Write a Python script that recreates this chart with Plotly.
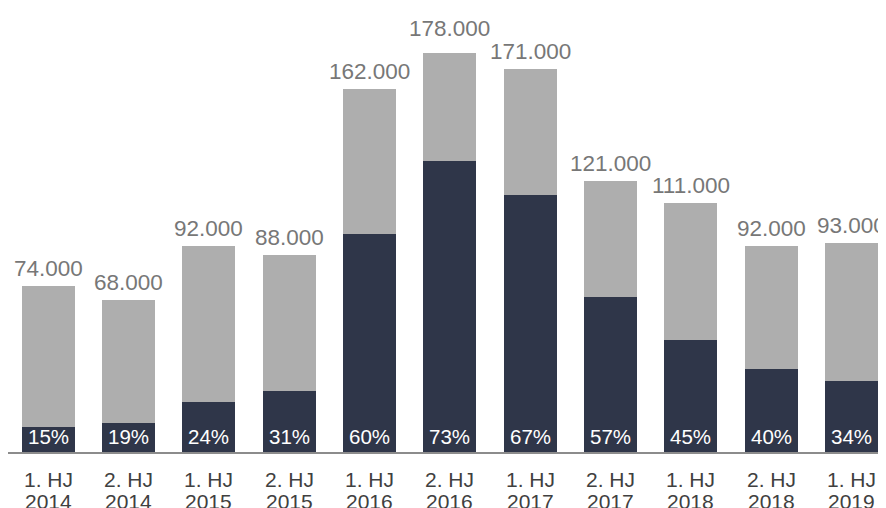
import plotly.graph_objects as go

half_labels = ["1. HJ", "2. HJ", "1. HJ", "2. HJ", "1. HJ", "2. HJ",
               "1. HJ", "2. HJ", "1. HJ", "2. HJ", "1. HJ"]
year_labels = ["2014", "2014", "2015", "2015", "2016", "2016",
               "2017", "2017", "2018", "2018", "2019"]
categories = [f"{h} {y}" for h, y in zip(half_labels, year_labels)]
totals = [74000, 68000, 92000, 88000, 162000, 178000, 171000, 121000, 111000, 92000, 93000]
shares_pct = [15, 19, 24, 31, 60, 73, 67, 57, 45, 40, 34]
total_labels = ["74.000", "68.000", "92.000", "88.000", "162.000", "178.000",
                "171.000", "121.000", "111.000", "92.000", "93.000"]

dark = [t * p / 100 for t, p in zip(totals, shares_pct)]
light = [t - d for t, d in zip(totals, dark)]

DARK = "#2F3649"
GRAY = "#AEAEAE"
FONT = "Liberation Sans, Arial, sans-serif"

# extra lift for the label that sits next to a taller neighbour label
label_lift = {"2. HJ 2016": 7}

fig = go.Figure()
fig.add_trace(go.Bar(x=categories, y=dark, marker=dict(color=DARK, line=dict(width=0)),
                     hoverinfo="skip"))
fig.add_trace(go.Bar(x=categories, y=light, marker=dict(color=GRAY, line=dict(width=0)),
                     hoverinfo="skip"))

annotations = []
for c, t, lab in zip(categories, totals, total_labels):
    annotations.append(dict(x=c, y=t, text=lab, showarrow=False, yanchor="bottom",
                            yshift=3 + label_lift.get(c, 0),
                            font=dict(family=FONT, size=22.5, color="#777777")))
for c, p in zip(categories, shares_pct):
    annotations.append(dict(x=c, y=0, text=f"{p}%", showarrow=False, yanchor="bottom",
                            yshift=2, font=dict(family=FONT, size=20.5, color="#FFFFFF")))
for c, h, y in zip(categories, half_labels, year_labels):
    annotations.append(dict(x=c, y=0, yref="paper", text=h, showarrow=False, yanchor="top",
                            yshift=-14, font=dict(family=FONT, size=21, color="#404040")))
    annotations.append(dict(x=c, y=0, yref="paper", text=y, showarrow=False, yanchor="top",
                            yshift=-36, font=dict(family=FONT, size=21, color="#404040")))

fig.update_layout(
    barmode="stack",
    bargap=0.34,
    width=886, height=508,
    margin=dict(l=0, r=0, t=0, b=64, autoexpand=False),
    paper_bgcolor="white", plot_bgcolor="white",
    showlegend=False,
    annotations=annotations,
    font=dict(family=FONT),
)
fig.update_xaxes(range=[-0.5, 10.53], showline=True, linecolor="#8C8C8C", linewidth=1.5,
                 ticks="", showticklabels=False,
                 showgrid=False, fixedrange=True, automargin=False)
fig.update_yaxes(range=[0, 198000], visible=False, showgrid=False, zeroline=False, fixedrange=True)

fig.write_html("out.html")
